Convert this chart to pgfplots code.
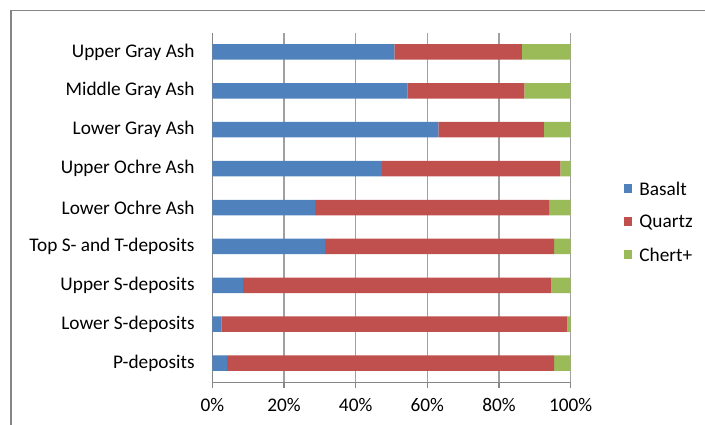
\documentclass[border=0pt]{standalone}
\usepackage{pgfplots}
\pgfplotsset{compat=1.18}
\usepackage{fontspec}
\setmainfont{Carlito}
\definecolor{basalt}{HTML}{4F81BD}
\definecolor{quartz}{HTML}{C0504D}
\definecolor{chert}{HTML}{9BBB59}
\definecolor{axgray}{HTML}{868686}
\definecolor{gridgray}{HTML}{A0A0A0}
\pgfplotsset{
  sqlegend/.style={legend image code/.code={\fill[##1,draw=none] (0bp,-4.25bp) rectangle (8.5bp,4.25bp);}}
}
\begin{document}
\begin{tikzpicture}
\useasboundingbox (0bp,0bp) rectangle (705bp,-425bp);
\draw[axgray,line width=1.2bp] (11bp,-430bp) -- (11bp,-10.5bp) -- (710bp,-10.5bp);
\begin{axis}[
  at={(212.3bp,-382.5bp)}, anchor=south west,
  scale only axis, width=358.4bp, height=350bp,
  xbar stacked, bar width=15.5bp,
  xmin=0, xmax=100, ymin=-0.5, ymax=8.5,
  axis x line*=bottom, axis y line*=left,
  axis line style={axgray, line width=1.2bp},
  xtick={0,20,40,60,80,100},
  xticklabels={0\%,20\%,40\%,60\%,80\%,100\%},
  ytick={0,...,8},
  yticklabels={P-deposits,Lower S-deposits,Upper S-deposits,Top S- and T-deposits,Lower Ochre Ash,Upper Ochre Ash,Lower Gray Ash,Middle Gray Ash,Upper Gray Ash},
  minor ytick={-0.5,0.5,...,8.5},
  tick align=outside,
  major tick length=5.5bp, minor tick length=6bp,
  ytick style={draw=none},
  minor tick style={axgray, line width=1.2bp},
  xtick style={axgray, line width=1.2bp},
  xmajorgrids, grid style={gridgray, line width=1.2bp},
  tick label style={font=\fontsize{19.3bp}{23bp}\selectfont},
  yticklabel style={inner sep=0pt, xshift=-12bp},
  xticklabel style={inner sep=0pt, yshift=-10bp},
  legend style={at={(1.148,0.46)}, anchor=west, draw=none, fill=none, inner sep=0pt,
    font=\fontsize{19.3bp}{23bp}\selectfont, row sep=20bp,
    nodes={inner sep=0pt, text depth=0pt}},
  legend cell align=left,
  every axis plot/.append style={draw=none, sqlegend},
]
\addplot[fill=basalt] coordinates {(4.1,0) (2.5,1) (8.5,2) (31.5,3) (28.7,4) (47.3,5) (63.1,6) (54.4,7) (50.8,8)};
\addplot[fill=quartz] coordinates {(91.3,0) (96.6,1) (86.1,2) (63.9,3) (65.3,4) (49.8,5) (29.4,6) (32.7,7) (35.6,8)};
\addplot[fill=chert] coordinates {(4.6,0) (0.9,1) (5.4,2) (4.6,3) (6.0,4) (2.9,5) (7.5,6) (12.9,7) (13.6,8)};
\legend{\hspace{7bp}Basalt,\hspace{7bp}Quartz,\hspace{7bp}Chert+}
\end{axis}
\end{tikzpicture}
\end{document}
